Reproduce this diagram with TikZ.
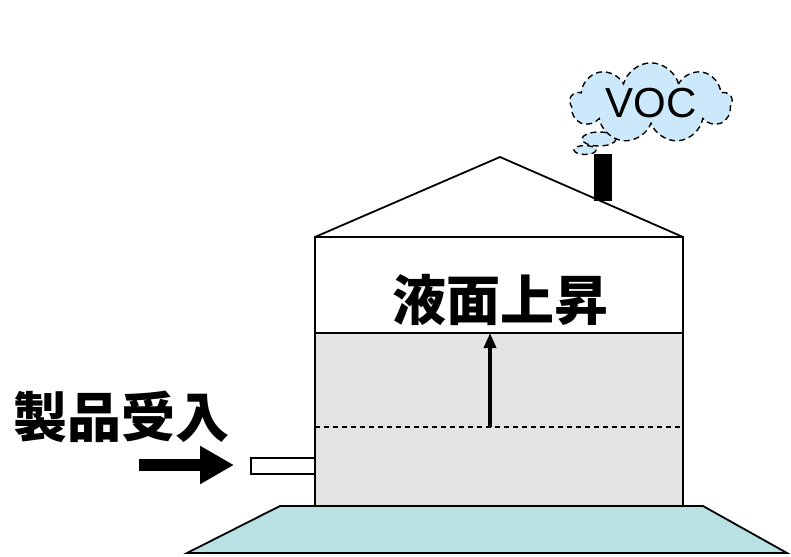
\documentclass[tikz,border=0pt]{standalone}
\usepackage{fontspec}
\setmainfont{Liberation Sans}
\newfontfamily\cjk{Noto Sans CJK JP}
\usetikzlibrary{shapes.symbols,arrows.meta}

\definecolor{liquid}{HTML}{E3E3E3}
\definecolor{basecol}{HTML}{B9E0E3}
\definecolor{vapour}{HTML}{CCE9FB}

\tikzset{
  wall/.style={draw=black, line width=1.8pt},
  bigtext/.style={font=\cjk\bfseries\fontsize{54}{54}\selectfont, inner sep=0pt},
  puff/.style={draw=black, dash pattern=on 6pt off 4pt, line width=1.4pt, fill=vapour},
}

\begin{document}
\begin{tikzpicture}[x=1pt, y=-1pt]
    \useasboundingbox (0,0) rectangle (791,556);
    % corners of the tank
    \coordinate (tl) at (315,237);
    \coordinate (tr) at (683,237);
    \coordinate (bl) at (315,506);
    \coordinate (br) at (683,506);
    \coordinate (sl) at (315,333);
    \coordinate (sr) at (683,333);
    \coordinate (ol) at (315,427);
    \coordinate (or) at (683,427);
    \coordinate (apex) at (500,157);

    % foundation slab
    \draw [wall, fill=basecol] (280,506) -- (703,506) -- (787,553) -- (187,553) -- cycle;

    % liquid and walls
    \fill [liquid] (sl) rectangle (br);
    \draw [dash pattern=on 5pt off 4pt, line width=1.3pt] (ol) -- (or);
    \draw [wall] (tl) -- (bl) -- (br) -- (tr) -- cycle;
    \draw [wall] (sl) -- (sr);

    % vent stack, then the roof over it
    \fill (594,154) rectangle (612,201);
    \draw [wall, line join=miter] (tl) -- (apex) -- (tr);

    % level rises
    \coordinate (lvl) at (490,427);
    \coordinate (surf) at (490,333);
    \draw [line width=3.5pt, -{Triangle[length=15pt,width=12pt]}] (lvl) -- (surf);
    \node [bigtext] (rise) at (500,300) {液面上昇};

    % inlet pipe and feed
    \draw [line width=1.3pt, fill=white] (251,458) rectangle (315,474);
    \coordinate (feed) at (139,465);
    \coordinate (inlet) at (234,465);
    \draw [line width=12pt, -{Triangle[length=34pt,width=36pt]}] (feed) -- (inlet);
    \node [bigtext] (feedtext) at (121,417) {製品受入};

    % vapour escaping
    \draw [puff] (585,150) ellipse (11 and 4.5);
    \draw [puff] (599,139) ellipse (17 and 7);
    \node [cloud, cloud puffs=9, aspect=2.6, puff, minimum width=162pt,
           minimum height=62pt, inner sep=0pt,
           font=\fontsize{42}{42}\selectfont] (voc) at (651,103) {VOC};
\end{tikzpicture}
\end{document}
